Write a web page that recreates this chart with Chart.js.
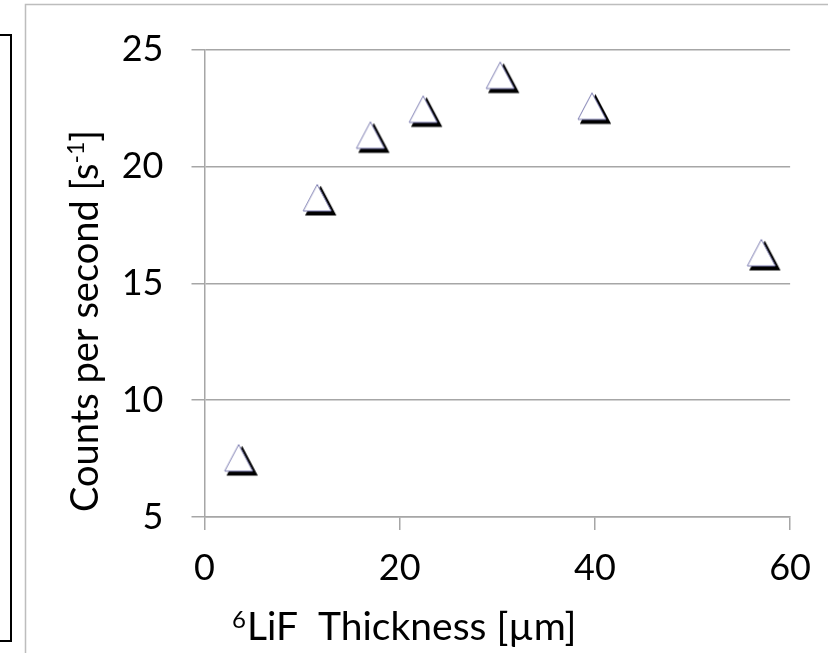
<!DOCTYPE html>
<html>
<head>
<meta charset="utf-8">
<script src="https://cdn.jsdelivr.net/npm/chart.js@4.4.1/dist/chart.umd.min.js"></script>
<style>
  html, body { margin: 0; padding: 0; background: #fff; }
  canvas { display: block; }
</style>
</head>
<body>
<canvas id="chart" width="828" height="653"></canvas>
<script>
// 6LiF layer thickness [um] vs count rate [1/s]
var thickness = [3.5, 11.55, 17.0, 22.4, 30.3, 39.7, 57.05];
var counts = [7.52, 18.65, 21.33, 22.44, 23.89, 22.57, 16.3];
var xTicks = [0, 20, 40, 60];
var yTicks = [5, 10, 15, 20, 25];

var fontFamily = "Lato, 'Open Sans', sans-serif";

// excel-ish triangle marker with a black drop shadow
function makeMarker() {
  var c = document.createElement('canvas');
  c.width = 44;
  c.height = 44;
  var m = c.getContext('2d');
  function tri(dx, dy) {
    m.beginPath();
    m.moveTo(22 + dx, 8.5 + dy);
    m.lineTo(36 + dx, 35 + dy);
    m.lineTo(8 + dx, 35 + dy);
    m.closePath();
  }
  tri(3.5, 3.5);
  m.fillStyle = '#000';
  m.fill();
  m.strokeStyle = '#000';
  m.lineWidth = 2;
  m.stroke();
  tri(0, 0);
  m.fillStyle = '#fff';
  m.fill();
  m.strokeStyle = '#7b7bb0';
  m.lineWidth = 1;
  m.stroke();
  return c;
}

// frame lines + axis titles with superscripts
var decor = {
  id: 'decor',
  beforeDraw: function(chart) {
    var ctx = chart.ctx;
    ctx.save();
    ctx.strokeStyle = '#bdbdbd';
    ctx.lineWidth = 1.5;
    ctx.beginPath();
    ctx.moveTo(25.5, 653);
    ctx.lineTo(25.5, 4.5);
    ctx.lineTo(828, 4.5);
    ctx.stroke();
    ctx.strokeStyle = '#000';
    ctx.lineWidth = 2;
    ctx.beginPath();
    ctx.moveTo(-5, 35);
    ctx.lineTo(11, 35);
    ctx.lineTo(11, 641);
    ctx.lineTo(-5, 641);
    ctx.stroke();
    ctx.restore();
  },
  afterDraw: function(chart) {
    var ctx = chart.ctx;
    ctx.save();
    ctx.fillStyle = '#000';
    ctx.textBaseline = 'alphabetic';
    ctx.textAlign = 'left';

    // x title
    var x = 232, y = 640;
    ctx.font = '24px ' + fontFamily;
    ctx.fillText('6', x, y - 12);
    x += ctx.measureText('6').width + 1;
    ctx.font = '39px ' + fontFamily;
    ctx.fillText('LiF  Thickness [\u00b5m]', x, y);

    // y title (rotated)
    ctx.translate(98, 512);
    ctx.rotate(-Math.PI / 2);
    var t1 = 'Counts per second [s';
    ctx.font = '38px ' + fontFamily;
    ctx.fillText(t1, 0, 0);
    var w = ctx.measureText(t1).width;
    ctx.font = '23px ' + fontFamily;
    ctx.fillText('-1', w, -14);
    w += ctx.measureText('-1').width;
    ctx.font = '38px ' + fontFamily;
    ctx.fillText(']', w, 0);
    ctx.restore();
  }
};

var ctx = document.getElementById('chart').getContext('2d');
var myChart = new Chart(ctx, {
  type: 'scatter',
  data: {
    datasets: [
      {
        data: thickness.map(function(t, i) { return { x: t, y: counts[i] }; }),
        pointStyle: makeMarker(),
        pointRadius: 14,
        showLine: false
      }
    ]
  },
  options: {
    responsive: false,
    animation: false,
    layout: {
      padding: { left: 0, right: 34, top: 48, bottom: 0 }
    },
    plugins: {
      legend: { display: false },
      tooltip: { enabled: false }
    },
    scales: {
      x: {
        type: 'linear',
        min: 0,
        max: 60,
        afterBuildTicks: function(s) {
          s.ticks = xTicks.map(function(v) { return { value: v }; });
        },
        afterFit: function(s) { s.height = 136; },
        grid: {
          drawOnChartArea: false,
          drawTicks: true,
          tickLength: 13,
          color: '#a6a6a6',
          lineWidth: 1.5
        },
        border: { display: true, color: '#a6a6a6', width: 1.5 },
        ticks: {
          color: '#000',
          padding: 17,
          maxRotation: 0,
          font: { family: fontFamily, size: 36 }
        }
      },
      y: {
        type: 'linear',
        min: 5,
        max: 25,
        afterBuildTicks: function(s) {
          s.ticks = yTicks.map(function(v) { return { value: v }; });
        },
        afterFit: function(s) { s.width = 204.5; },
        grid: {
          drawTicks: true,
          tickLength: 13,
          color: '#a6a6a6',
          lineWidth: 1.5
        },
        border: { display: true, color: '#a6a6a6', width: 1.5 },
        ticks: {
          color: '#000',
          padding: 28,
          font: { family: fontFamily, size: 36 }
        }
      }
    }
  },
  plugins: [decor]
});
</script>
</body>
</html>
